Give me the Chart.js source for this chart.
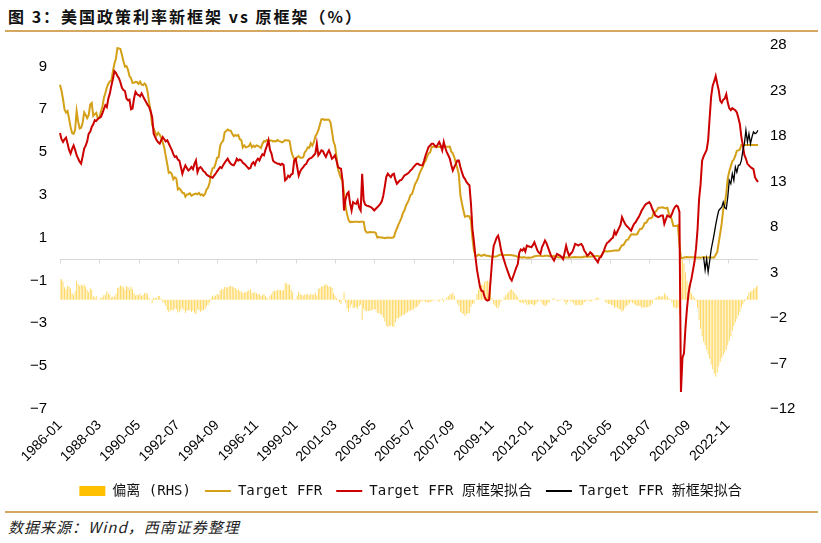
<!DOCTYPE html>
<html>
<head>
<meta charset="utf-8">
<script src="https://cdn.jsdelivr.net/npm/chart.js@4.4.1/dist/chart.umd.min.js"></script>
<style>
  body { margin: 0; background: #fff; width: 821px; height: 543px; position: relative; overflow: hidden; }
  #title { position: absolute; left: 8px; top: 4px; font: bold 16px "Noto Sans CJK SC", sans-serif; letter-spacing: 2px; color: #111; }
  .rule { position: absolute; left: 5px; width: 813px; height: 2px; background: #d6a760; }
  #source { position: absolute; left: 8px; top: 516px; font: italic 15px "Noto Sans CJK SC", sans-serif; letter-spacing: 1px; color: #222; }
  #box { position: absolute; left: 0; top: 24px; width: 821px; height: 484px; }
</style>
</head>
<body>
<div id="title">图 3：美国政策利率新框架 vs 原框架（%）</div>
<div class="rule" style="top:30px"></div>
<div id="box"><canvas id="chart"></canvas></div>
<div class="rule" style="top:511px"></div>
<div id="source">数据来源：Wind，西南证券整理</div>

<script>
// monthly, 1986-01 .. 2024-07
const months = [];
for (let y = 1986; y <= 2024; y++) {
  for (let m = 1; m <= 12; m++) {
    if (y === 2024 && m > 7) break;
    months.push(y + "-" + String(m).padStart(2, "0"));
  }
}

// tick labels shown on the x axis
const tickLabels = ["1986-01", "1988-03", "1990-05", "1992-07", "1994-09", "1996-11",
  "1999-01", "2001-03", "2003-05", "2005-07", "2007-09", "2009-11", "2012-01",
  "2014-03", "2016-05", "2018-07", "2020-09", "2022-11"];
const leftTicks = [-7, -5, -3, -1, 1, 3, 5, 7, 9];
const rightTicks = [-12, -7, -2, 3, 8, 13, 18, 23, 28];

// Target FFR
const ffr = [
  8.14,7.86,7.48,6.99,6.85,6.92,6.56,6.17,5.89,5.85,6.04,6.91,
  6.43,6.10,6.13,6.37,6.85,6.73,6.58,6.73,7.22,7.29,6.69,6.77,
  6.83,6.58,6.58,6.87,7.09,7.51,7.75,8.01,8.19,8.30,8.35,8.76,
  9.12,9.36,9.85,9.84,9.81,9.53,9.24,8.99,9.02,8.84,8.55,8.45,
  8.23,8.24,8.28,8.26,8.18,8.29,8.15,8.13,8.20,8.11,7.81,7.31,
  6.91,6.25,6.12,5.91,5.78,5.90,5.82,5.66,5.45,5.21,4.81,4.43,
  4.03,4.06,3.98,3.73,3.82,3.76,3.25,3.30,3.22,3.10,3.09,2.92,
  3.02,3.03,3.07,2.96,3.00,3.04,3.06,3.03,3.09,2.99,3.02,2.96,
  3.05,3.25,3.34,3.56,4.01,4.25,4.26,4.47,4.73,4.76,5.29,5.45,
  5.53,5.92,5.98,6.05,6.01,6.00,5.85,5.74,5.80,5.76,5.80,5.60,
  5.56,5.22,5.31,5.22,5.24,5.27,5.40,5.22,5.30,5.24,5.31,5.29,
  5.25,5.19,5.39,5.51,5.50,5.56,5.52,5.54,5.54,5.50,5.52,5.50,
  5.56,5.51,5.49,5.45,5.49,5.56,5.54,5.55,5.51,5.07,4.83,4.68,
  4.63,4.76,4.81,4.74,4.74,4.76,4.99,5.07,5.22,5.20,5.42,5.30,
  5.45,5.73,5.85,6.02,6.27,6.53,6.54,6.50,6.52,6.51,6.51,6.40,
  5.98,5.49,5.31,4.80,4.21,3.97,3.77,3.65,3.07,2.49,2.09,1.82,
  1.73,1.74,1.73,1.75,1.75,1.75,1.73,1.74,1.75,1.75,1.34,1.24,
  1.24,1.26,1.25,1.26,1.26,1.22,1.01,1.03,1.01,1.01,1.00,0.98,
  1.00,1.01,1.00,1.00,1.00,1.03,1.26,1.43,1.61,1.76,1.93,2.16,
  2.28,2.50,2.63,2.79,3.00,3.04,3.26,3.50,3.62,3.78,4.00,4.16,
  4.29,4.49,4.59,4.79,4.94,4.99,5.24,5.25,5.25,5.25,5.25,5.24,
  5.25,5.26,5.26,5.25,5.25,5.25,5.26,5.02,4.94,4.76,4.49,4.24,
  3.94,2.98,2.61,2.28,1.98,2.00,2.01,2.00,1.81,0.97,0.39,0.16,
  0.15,0.22,0.18,0.15,0.18,0.21,0.16,0.16,0.15,0.12,0.12,0.12,
  0.11,0.13,0.16,0.20,0.20,0.18,0.18,0.19,0.19,0.19,0.19,0.18,
  0.17,0.16,0.14,0.10,0.09,0.09,0.07,0.10,0.08,0.07,0.08,0.07,
  0.08,0.10,0.13,0.14,0.16,0.16,0.16,0.13,0.14,0.16,0.16,0.16,
  0.14,0.15,0.14,0.15,0.11,0.09,0.09,0.08,0.08,0.09,0.08,0.09,
  0.07,0.07,0.08,0.09,0.09,0.10,0.09,0.09,0.09,0.09,0.09,0.12,
  0.11,0.11,0.11,0.12,0.12,0.13,0.13,0.14,0.14,0.12,0.12,0.24,
  0.34,0.38,0.36,0.37,0.37,0.38,0.39,0.40,0.40,0.40,0.41,0.54,
  0.65,0.66,0.79,0.90,0.91,1.04,1.15,1.16,1.15,1.15,1.16,1.30,
  1.41,1.42,1.51,1.69,1.70,1.82,1.91,1.91,1.95,2.19,2.20,2.27,
  2.40,2.40,2.41,2.42,2.39,2.38,2.40,2.13,2.04,1.83,1.55,1.55,
  1.55,1.58,0.65,0.05,0.05,0.08,0.09,0.10,0.09,0.09,0.09,0.09,
  0.09,0.08,0.07,0.07,0.06,0.08,0.10,0.09,0.08,0.08,0.08,0.08,
  0.08,0.08,0.20,0.33,0.77,1.21,1.68,2.33,2.56,3.08,3.78,4.10,
  4.33,4.57,4.65,4.83,5.06,5.08,5.12,5.33,5.33,5.33,5.33,5.33,
  5.33,5.33,5.33,5.33,5.33,5.33,5.33
];

// Target FFR 原框架拟合
const fitOld = [
  5.89,5.60,5.47,5.60,5.68,5.40,5.10,4.93,5.15,5.31,5.10,4.85,
  4.70,4.55,4.46,4.80,5.16,5.30,5.50,5.86,5.95,6.17,6.30,6.49,
  6.45,6.55,6.60,6.64,6.80,7.00,7.19,7.10,7.50,7.74,8.10,8.40,
  8.78,8.70,8.55,8.45,8.25,8.00,7.90,7.85,7.50,7.42,7.45,7.00,
  7.03,7.50,7.81,7.70,7.66,7.60,7.74,7.60,7.45,7.34,7.20,7.11,
  6.90,6.64,5.86,5.70,5.55,5.45,5.39,5.55,5.70,5.60,5.50,5.55,
  5.40,5.24,5.10,4.90,4.77,4.80,4.65,4.60,4.30,3.99,4.20,4.38,
  4.25,4.14,4.20,4.30,4.20,4.45,4.61,4.06,4.25,4.30,4.22,4.10,
  4.06,3.95,3.90,3.85,3.83,3.80,3.90,3.99,4.10,4.20,4.30,4.25,
  4.38,4.50,4.60,4.69,4.55,4.45,4.40,4.38,4.50,4.69,4.60,4.65,
  4.61,4.50,4.45,4.38,4.30,4.22,4.25,4.45,4.53,4.40,4.60,4.69,
  4.60,4.77,4.90,4.85,5.10,5.30,5.55,5.10,4.93,4.60,4.53,4.50,
  4.45,4.45,4.40,4.45,4.40,3.68,3.75,3.90,3.83,3.95,3.99,4.61,
  4.69,4.30,3.90,4.10,4.22,4.30,4.40,4.45,4.60,4.69,4.72,4.77,
  4.85,4.93,5.39,4.85,4.95,5.08,5.05,4.90,4.77,4.95,5.08,4.90,
  4.69,4.75,4.85,4.60,4.30,4.25,4.22,3.68,2.27,2.80,3.05,3.13,
  2.60,2.27,2.66,2.60,2.58,2.74,2.40,2.27,3.99,2.74,2.55,2.50,
  2.48,2.45,2.42,2.35,2.27,2.35,2.42,2.50,2.58,2.70,2.97,3.40,
  3.85,3.99,3.90,3.83,3.95,3.99,3.70,3.52,3.60,3.68,3.70,3.80,
  3.91,3.95,3.99,4.05,4.14,4.20,4.30,4.38,4.45,4.45,4.40,4.38,
  4.38,4.60,4.85,5.05,5.24,5.30,5.39,5.39,5.30,5.24,5.35,5.47,
  5.30,5.08,5.47,5.20,5.00,4.85,4.69,4.40,4.14,4.30,4.45,4.61,
  4.61,4.30,4.06,3.85,3.75,3.60,3.52,3.45,2.60,1.40,0.80,0.10,
  -0.50,-0.90,-1.30,-1.48,-1.50,-1.75,-1.90,-1.94,-1.90,-1.00,-0.07,0.60,
  0.80,1.00,1.10,0.80,0.40,0.15,-0.07,-0.30,-0.50,-0.70,-0.90,-1.00,
  -0.80,-0.60,-0.40,-0.23,0.30,0.45,0.40,0.50,0.35,0.63,0.60,0.58,
  0.55,0.65,0.79,0.60,0.40,0.30,0.24,0.55,0.70,0.87,0.75,0.55,
  0.35,0.16,0.05,-0.07,0.10,0.24,0.20,0.16,0.10,0.00,0.30,0.63,
  0.35,0.16,0.25,0.32,0.50,0.71,0.68,0.63,0.68,0.71,0.60,0.40,
  0.30,0.16,0.22,0.32,0.25,0.16,0.05,-0.05,-0.15,0.05,0.10,0.24,
  0.40,0.60,0.75,0.80,0.87,0.95,1.00,1.30,1.15,1.30,1.45,1.60,
  1.96,1.80,1.65,1.55,1.49,1.40,1.33,1.50,1.65,1.72,1.85,1.96,
  2.10,2.27,2.38,2.50,2.58,2.62,2.66,2.55,2.35,2.20,2.04,2.00,
  1.96,2.00,2.04,2.04,1.65,1.85,2.04,2.00,1.96,2.10,2.30,2.43,
  2.50,2.45,2.20,-6.20,-4.60,-4.40,-3.20,-2.30,-1.60,-1.20,-0.90,-0.50,
  -0.10,0.50,1.40,2.80,3.50,4.60,4.80,4.95,5.10,5.55,6.60,7.60,
  8.10,8.30,8.55,8.20,7.89,7.40,7.30,7.45,7.50,7.70,7.30,7.05,
  6.96,7.05,7.00,6.95,6.85,6.60,6.30,5.70,5.30,4.85,4.70,4.45,
  4.38,4.30,4.25,4.20,3.83,3.70,3.60
];

// Target FFR 新框架拟合, from 2021-07
const fitNewStart = "2021-07";
const fitNew = [
  0.10,-0.50,0.00,-0.60,-0.10,0.45,
  0.80,1.18,1.60,1.96,2.27,2.35,2.43,2.66,2.40,2.35,2.90,3.68,
  3.52,3.99,3.68,4.30,4.06,4.38,4.40,4.61,5.08,5.39,6.02,5.47,
  5.86,5.39,5.70,5.94,5.86,5.90,6.02
];

// 偏离 (RHS)
const gap = [
  2.25,2.26,2.01,1.39,1.17,1.52,1.46,1.24,0.74,0.54,0.94,2.06,
  1.73,1.55,1.67,1.57,1.69,1.43,1.08,0.87,1.27,1.12,0.39,0.28,
  0.38,0.03,-0.02,0.23,0.29,0.51,0.56,0.91,0.69,0.56,0.25,0.36,
  0.34,0.66,1.30,1.39,1.56,1.53,1.34,1.14,1.52,1.42,1.10,1.45,
  1.20,0.74,0.47,0.56,0.52,0.69,0.41,0.53,0.75,0.77,0.61,0.20,
  0.01,-0.39,0.26,0.21,0.23,0.45,0.43,0.11,-0.25,-0.39,-0.69,-1.12,
  -1.37,-1.18,-1.12,-1.17,-0.95,-1.04,-1.40,-1.30,-1.08,-0.89,-1.11,-1.46,
  -1.23,-1.11,-1.13,-1.34,-1.20,-1.41,-1.55,-1.03,-1.16,-1.31,-1.20,-1.14,
  -1.01,-0.70,-0.56,-0.29,0.18,0.45,0.36,0.48,0.63,0.56,0.99,1.20,
  1.15,1.42,1.38,1.36,1.46,1.55,1.45,1.36,1.30,1.07,1.20,0.95,
  0.95,0.72,0.86,0.84,0.94,1.05,1.15,0.77,0.77,0.84,0.71,0.60,
  0.65,0.42,0.49,0.66,0.40,0.26,-0.03,0.44,0.61,0.90,0.99,1.00,
  1.11,1.06,1.09,1.00,1.09,1.88,1.79,1.65,1.68,1.12,0.84,0.07,
  -0.06,0.46,0.91,0.64,0.52,0.46,0.59,0.62,0.62,0.51,0.70,0.53,
  0.60,0.80,0.46,1.17,1.32,1.45,1.49,1.60,1.75,1.56,1.43,1.50,
  1.29,0.74,0.46,0.20,-0.09,-0.28,-0.45,-0.03,0.80,-0.31,-0.96,-1.31,
  -0.87,-0.53,-0.93,-0.85,-0.83,-0.99,-0.67,-0.53,-2.24,-0.99,-1.21,-1.26,
  -1.24,-1.19,-1.17,-1.09,-1.01,-1.13,-1.41,-1.47,-1.57,-1.69,-1.97,-2.42,
  -2.85,-2.98,-2.90,-2.83,-2.95,-2.96,-2.44,-2.09,-1.99,-1.92,-1.77,-1.64,
  -1.63,-1.45,-1.36,-1.26,-1.14,-1.16,-1.04,-0.88,-0.83,-0.67,-0.40,-0.22,
  -0.09,-0.11,-0.26,-0.26,-0.30,-0.31,-0.15,-0.14,-0.05,0.01,-0.10,-0.23,
  -0.05,0.18,-0.21,0.05,0.25,0.40,0.57,0.62,0.80,0.46,0.04,-0.37,
  -0.67,-1.32,-1.45,-1.57,-1.77,-1.60,-1.51,-1.45,-0.79,-0.43,-0.41,0.06,
  0.65,1.12,1.48,1.63,1.68,1.96,2.06,2.10,2.05,1.12,0.19,-0.48,
  -0.69,-0.87,-0.94,-0.60,-0.20,0.03,0.25,0.49,0.69,0.89,1.09,1.18,
  0.97,0.76,0.54,0.33,-0.21,-0.36,-0.33,-0.40,-0.27,-0.56,-0.52,-0.51,
  -0.47,-0.55,-0.66,-0.46,-0.24,-0.14,-0.08,-0.42,-0.56,-0.71,-0.59,-0.39,
  -0.21,-0.01,0.09,0.22,0.01,-0.15,-0.11,-0.08,-0.02,0.09,-0.22,-0.54,
  -0.28,-0.09,-0.17,-0.23,-0.41,-0.61,-0.59,-0.54,-0.59,-0.62,-0.51,-0.28,
  -0.19,-0.05,-0.11,-0.20,-0.13,-0.03,0.08,0.19,0.29,0.07,0.02,0.00,
  -0.06,-0.22,-0.39,-0.43,-0.50,-0.57,-0.61,-0.90,-0.75,-0.90,-1.04,-1.06,
  -1.31,-1.14,-0.86,-0.65,-0.58,-0.36,-0.18,-0.34,-0.50,-0.57,-0.69,-0.66,
  -0.69,-0.85,-0.87,-0.81,-0.88,-0.80,-0.75,-0.64,-0.40,-0.01,0.16,0.27,
  0.44,0.40,0.37,0.38,0.74,0.53,0.36,0.13,0.08,-0.27,-0.75,-0.88,
  -0.95,-0.87,-1.55,4.40,4.40,4.00,3.00,2.10,1.60,1.00,0.70,0.40,
  0.20,-0.10,-0.90,-2.20,-3.20,-4.00,-4.60,-5.00,-5.50,-6.00,-6.50,-7.10,
  -7.60,-8.10,-8.45,-8.00,-7.30,-6.80,-6.40,-6.10,-5.80,-5.50,-5.00,-4.50,
  -4.00,-3.40,-2.90,-2.50,-2.10,-1.70,-1.30,-0.85,-0.50,-0.20,0.10,0.40,
  0.80,0.90,1.00,1.20,1.30,1.45,1.60
];

const newData = new Array(months.indexOf(fitNewStart)).fill(null).concat(fitNew);

const minus = (v) => String(v).replace("-", "\u2212");

// x axis line at 0 on the left scale, with tick marks
const zeroLine = {
  id: "zeroLine",
  beforeDatasetsDraw(chart) {
    const { ctx, chartArea, scales } = chart;
    const y = Math.round(scales.y.getPixelForValue(0)) + 0.5;
    ctx.save();
    ctx.strokeStyle = "#d9d9d9";
    ctx.lineWidth = 1;
    ctx.beginPath();
    ctx.moveTo(chartArea.left, y);
    ctx.lineTo(chartArea.right, y);
    months.forEach((m, i) => {
      if (tickLabels.includes(m)) {
        const x = Math.round(scales.x.getPixelForValue(i)) + 0.5;
        ctx.moveTo(x, y);
        ctx.lineTo(x, y + 4);
      }
    });
    ctx.stroke();
    ctx.restore();
  },
};

const tickFont = { family: "'Liberation Sans', Arial, sans-serif", size: 15 };

new Chart("chart", {
  type: "bar",
  data: {
    labels: months,
    datasets: [
      {
        type: "bar",
        label: "偏离 (RHS)",
        data: gap,
        yAxisID: "y1",
        backgroundColor: "#FFD34D",
        barPercentage: 0.55,
        categoryPercentage: 1,
        order: 4,
      },
      {
        type: "line",
        label: "Target FFR",
        data: ffr,
        yAxisID: "y",
        borderColor: "#D4A017",
        borderWidth: 2,
        pointRadius: 0,
        tension: 0,
        order: 3,
      },
      {
        type: "line",
        label: "Target FFR 原框架拟合",
        data: fitOld,
        yAxisID: "y",
        borderColor: "#CC0000",
        borderWidth: 2,
        pointRadius: 0,
        tension: 0,
        order: 2,
      },
      {
        type: "line",
        label: "Target FFR 新框架拟合",
        data: newData,
        yAxisID: "y",
        borderColor: "#000000",
        borderWidth: 1.3,
        pointRadius: 0,
        tension: 0,
        order: 1,
      },
    ],
  },
  options: {
    responsive: true,
    maintainAspectRatio: false,
    animation: false,
    layout: { padding: { top: 21, left: 0, right: 0, bottom: 0 } },
    plugins: {
      tooltip: { enabled: false },
      legend: {
        position: "bottom",
        labels: {
          usePointStyle: true,
          pointStyleWidth: 26,
          boxHeight: 10,
          padding: 14,
          color: "#111",
          font: { family: "'DejaVu Sans Mono', 'Noto Sans CJK SC', monospace", size: 14 },
          sort: (a, b) => a.datasetIndex - b.datasetIndex,
          generateLabels(chart) {
            const items = Chart.defaults.plugins.legend.labels.generateLabels(chart);
            items.forEach((it) => {
              if (it.datasetIndex === 0) {
                it.pointStyle = "rect";
                it.fillStyle = "#FFC000";
                it.lineWidth = 0;
                it.strokeStyle = "#FFC000";
              } else {
                it.pointStyle = "line";
                it.lineWidth = 2;
              }
            });
            return items;
          },
        },
      },
    },
    scales: {
      x: {
        offset: false,
        grid: { display: false },
        border: { display: false },
        afterFit(scale) { scale.height = 61; },
        ticks: {
          autoSkip: false,
          maxRotation: 45,
          minRotation: 45,
          padding: 0,
          color: "#000",
          font: { family: "'Liberation Sans', Arial, sans-serif", size: 14 },
          callback(val, i) {
            const m = months[i];
            return tickLabels.includes(m) ? m : null;
          },
        },
      },
      y: {
        position: "left",
        min: -7,
        max: 10,
        grid: { display: false },
        border: { display: false },
        afterBuildTicks(scale) { scale.ticks = leftTicks.map((v) => ({ value: v })); },
        afterFit(scale) { scale.width = 60; },
        ticks: { color: "#000", font: tickFont, padding: 5, callback: minus },
      },
      y1: {
        position: "right",
        min: -12,
        max: 28,
        grid: { display: false },
        border: { display: false },
        afterBuildTicks(scale) { scale.ticks = rightTicks.map((v) => ({ value: v })); },
        afterFit(scale) { scale.width = 63; },
        ticks: { color: "#000", font: tickFont, padding: 4, callback: minus },
      },
    },
  },
  plugins: [zeroLine],
});
</script>
</body>
</html>
